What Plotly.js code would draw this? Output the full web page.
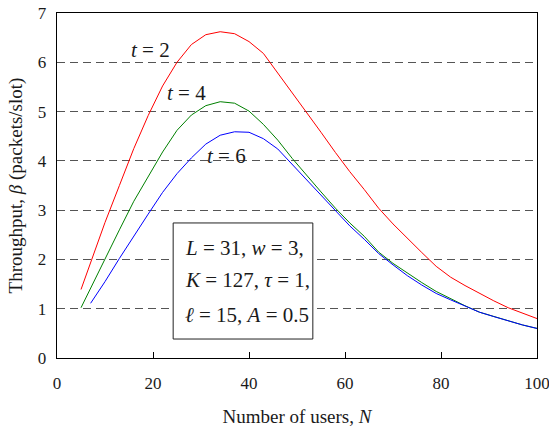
<!DOCTYPE html>
<html>
<head>
<meta charset="utf-8">
<script src="https://cdn.plot.ly/plotly-3.0.1.min.js"></script>
<style>html,body{margin:0;padding:0;background:#fff;}#chart{width:549px;height:438px;}</style>
</head>
<body>
<div id="chart"></div>
<script>
// Number of users N
const N = [5,7,10,13,16,19,22,25,28,31,34,37,40,43,46,49,52,55,58,61,64,67,70,73,76,79,82,85,88,91,94,97,100];
// Throughput beta for t = 2
const beta_t2 = [1.39,1.93,2.75,3.50,4.25,4.92,5.52,6.00,6.36,6.56,6.62,6.58,6.42,6.18,5.78,5.40,5.00,4.58,4.17,3.78,3.42,3.04,2.72,2.42,2.14,1.86,1.64,1.47,1.31,1.16,1.02,0.91,0.80];
// Throughput beta for t = 4
const beta_t4 = [1.02,1.42,2.00,2.60,3.18,3.68,4.18,4.62,4.93,5.12,5.20,5.17,5.01,4.74,4.42,4.05,3.70,3.37,3.04,2.74,2.47,2.15,1.92,1.72,1.53,1.35,1.20,1.06,0.93,0.84,0.75,0.67,0.60];
// Throughput beta for t = 6 (starts at N = 7)
const beta_t6 = [null,1.11,1.55,2.02,2.48,2.92,3.36,3.74,4.06,4.34,4.52,4.59,4.58,4.45,4.24,3.93,3.62,3.30,2.98,2.68,2.41,2.12,1.89,1.67,1.48,1.31,1.18,1.05,0.93,0.84,0.75,0.67,0.60];

const xTicks = [0,20,40,60,80,100];
const yTicks = [0,1,2,3,4,5,6,7];
const curveLabels = ["<i>t</i> = 2","<i>t</i> = 4","<i>t</i> = 6"];
const paramLines = ["<i>L</i> = 31, <i>w</i> = 3,","<i>K</i> = 127, <i>τ</i> = 1,","<i>ℓ</i> = 15, <i>A</i> = 0.5"];

const serif = "Times New Roman, Liberation Serif, DejaVu Serif, serif";
const txt = "#1a1a1a";

const traces = [
  {x:N, y:beta_t2, mode:"lines", line:{color:"#ff0000", width:1}, connectgaps:false},
  {x:N, y:beta_t4, mode:"lines", line:{color:"#008000", width:1}, connectgaps:false},
  {x:N, y:beta_t6, mode:"lines", line:{color:"#0000ff", width:1}, connectgaps:false}
];

const labelPos = [[19.5,6.25],[26.9,5.37],[35.3,4.09]];
const annotations = curveLabels.map((t,i)=>({
  x:labelPos[i][0], y:labelPos[i][1], xref:"x", yref:"y", text:t, showarrow:false,
  font:{family:serif, size:21, color:txt}
}));
const lineY = [2.23,1.58,0.88];
paramLines.forEach((t,i)=>annotations.push({
  x:26.3, y:lineY[i], xref:"x", yref:"y", text:t, showarrow:false, xanchor:"left",
  font:{family:serif, size:21, color:txt}
}));

const layout = {
  width:549, height:438,
  margin:{l:57, r:12, t:13, b:80},
  paper_bgcolor:"#fff", plot_bgcolor:"#fff",
  showlegend:false,
  font:{family:serif, color:txt},
  xaxis:{
    range:[0,100], tickvals:xTicks, ticktext:xTicks.map(String),
    ticks:"inside", ticklen:6, tickcolor:"#000", tickwidth:1,
    showline:true, linecolor:"#000", linewidth:1.3, mirror:true,
    showgrid:false, zeroline:false,
    tickfont:{family:serif, size:17, color:txt},
    ticklabelstandoff:9, ticklabeloverflow:"allow",
    title:{text:"Number of users, <i>N</i>", font:{family:serif, size:19, color:txt}, standoff:18}
  },
  yaxis:{
    range:[0,7], tickvals:yTicks, ticktext:yTicks.map(String),
    ticks:"", showline:true, linecolor:"#000", linewidth:1.3, mirror:true,
    showgrid:true, gridcolor:"#555", gridwidth:1, griddash:"8px,5px",
    zeroline:false,
    tickfont:{family:serif, size:17, color:txt},
    ticklabelstandoff:6, ticklabeloverflow:"allow",
    title:{text:"Throughput, <i>β</i> (packets/slot)", font:{family:serif, size:19, color:txt}, standoff:10}
  },
  shapes:[
    {type:"rect", xref:"x", yref:"y", x0:24.2, x1:53.3, y0:0.385, y1:2.74,
     line:{color:"#222", width:1}, fillcolor:"#fff", layer:"between"}
  ],
  annotations:annotations
};

Plotly.newPlot("chart", traces, layout, {displayModeBar:false, staticPlot:true});
</script>
</body>
</html>
